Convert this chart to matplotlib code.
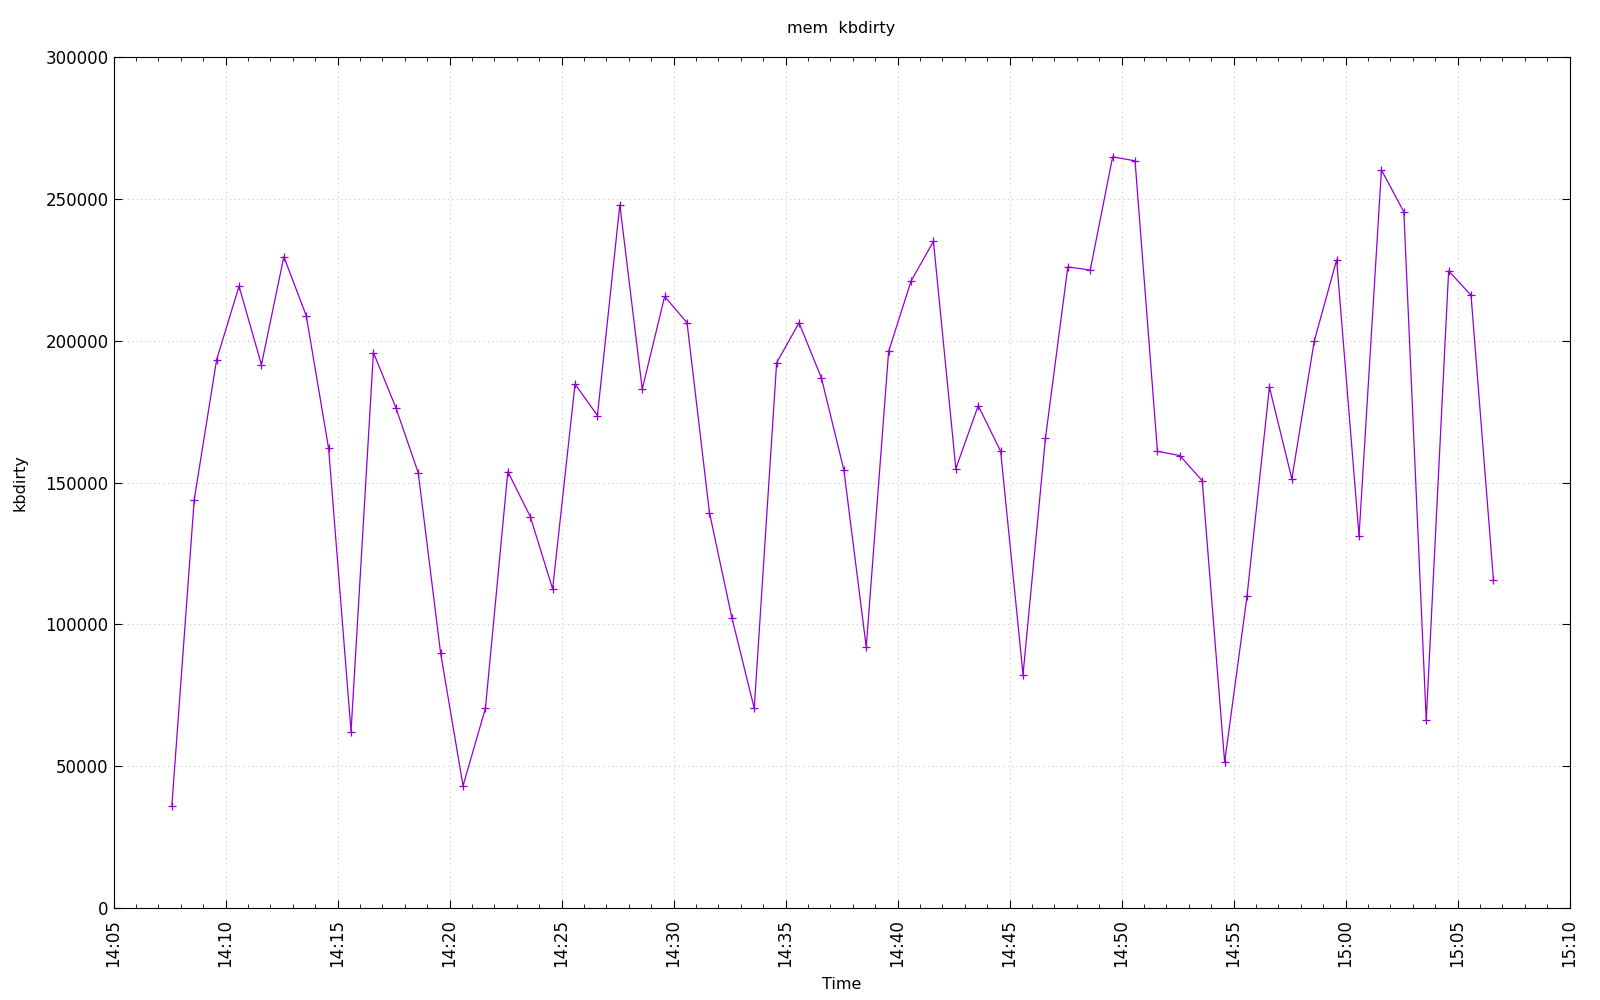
import datetime as dt
import matplotlib
matplotlib.use("Agg")
import matplotlib.pyplot as plt
import matplotlib.dates as mdates

# sample times: one per minute from 14:07:36
start = dt.datetime(2024, 1, 1, 14, 7, 36)
times = [start + dt.timedelta(minutes=i) for i in range(60)]

kbdirty = [
    36000, 144000, 193300, 219200, 191500, 229600, 208800, 162000, 62200, 195800,
    176400, 153400, 89800, 43100, 70400, 153800, 138000, 112500, 184700, 173600,
    247900, 182900, 215600, 206300, 139400, 102400, 70400, 192200, 206300, 186800,
    154500, 92000, 196200, 221000, 235000, 154900, 177100, 161000, 82300, 165600,
    226000, 224900, 264800, 263400, 161000, 159500, 150600, 51400, 110000, 183600,
    151300, 199800, 228500, 131200, 260200, 245400, 66100, 224600, 216000, 115700,
]

plt.rcParams['font.family'] = ['DejaVu Sans']
plt.rcParams['font.size'] = 11.5

fig = plt.figure(figsize=(16, 10), dpi=100)
ax = fig.add_axes([0.071, 0.092, 0.910, 0.851])

ax.plot(times, kbdirty, color='#9400D3', linewidth=0.9, marker='+',
        markersize=5.5, markeredgewidth=0.9)

ax.set_xlim(dt.datetime(2024, 1, 1, 14, 5), dt.datetime(2024, 1, 1, 15, 10))
ax.set_ylim(0, 300000)
ax.set_yticks(range(0, 300001, 50000))
ax.xaxis.set_major_locator(mdates.MinuteLocator(byminute=range(0, 60, 5)))
ax.xaxis.set_minor_locator(mdates.MinuteLocator())
ax.xaxis.set_major_formatter(mdates.DateFormatter('%H:%M'))
plt.setp(ax.get_xticklabels(), rotation=90)

ax.tick_params(which='both', direction='in', top=True, right=True, labelsize=12)
ax.tick_params(which='major', length=6)
ax.tick_params(which='minor', length=3)
ax.tick_params(axis='x', which='major', pad=8)
ax.grid(True, which='major', color='#c8c8c8', linestyle=(0, (1, 3)), linewidth=0.8)

ax.set_title('mem  kbdirty', fontsize=11.5, pad=17)
ax.set_xlabel('Time', labelpad=7)
ax.set_ylabel('kbdirty', labelpad=13)

fig.savefig('out.png', dpi=100)
